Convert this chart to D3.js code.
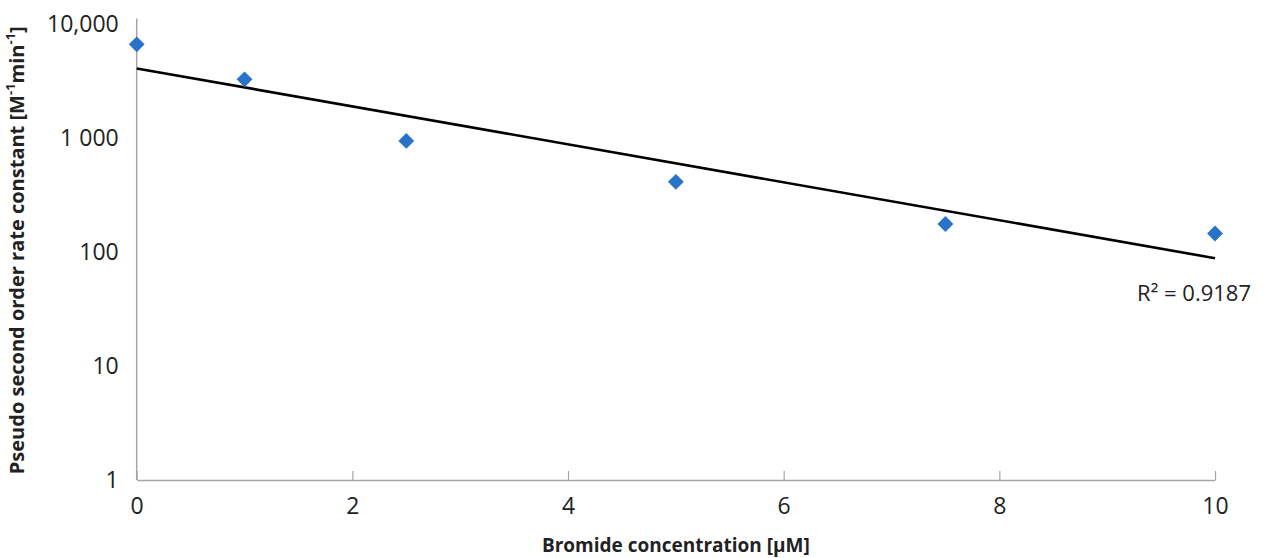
<!DOCTYPE html>
<html>
<head>
<meta charset="utf-8">
<script src="https://cdn.jsdelivr.net/npm/d3@7"></script>
<style>
  html, body { margin: 0; padding: 0; background: #fff; }
  svg { display: block; }
  text { font-family: "Open Sans", "Liberation Sans", sans-serif; }
</style>
</head>
<body>
<svg id="chart" width="1265" height="558"></svg>
<script>
// ---- data ----
const bromide = [0, 1, 2.5, 5, 7.5, 10];
const rateConstant = [6700, 3300, 950, 415, 177, 146];
const yTickValues = [1, 10, 100, 1000, 10000];
const yTickLabels = ["1", "10", "100", "1 000", "10,000"];
const xTickValues = [0, 2, 4, 6, 8, 10];
const rSquaredLabel = "R\u00B2 = 0.9187";

const W = 1265, H = 558;
const margin = { left: 136.7, right: 50, top: 24.5, bottom: 78 };
const svg = d3.select("#chart");

const x = d3.scaleLinear().domain([0, 10]).range([margin.left, W - margin.right]);
const y = d3.scaleLog().domain([1, 10000]).range([H - margin.bottom, margin.top]);

// y axis
const yAxis = svg.append("g")
  .attr("transform", `translate(${margin.left},0)`)
  .call(d3.axisLeft(y).tickValues(yTickValues).tickSize(0).tickPadding(18)
    .tickFormat((d, i) => yTickLabels[i]));
yAxis.select(".domain").attr("stroke", "#a6a6a6").attr("stroke-width", 1.5)
  .attr("d", `M0,${y(1)}V${y(10000) - 6}`);
yAxis.selectAll("text").attr("font-size", 23).attr("fill", "#222")
  .attr("font-family", "'Open Sans', sans-serif");

// x axis
const xAxis = svg.append("g")
  .attr("transform", `translate(0,${y(1)})`)
  .call(d3.axisBottom(x).tickValues(xTickValues).tickSizeInner(-9).tickSizeOuter(0).tickPadding(0)
    .tickFormat(d3.format("d")));
xAxis.select(".domain").attr("stroke", "#a6a6a6").attr("stroke-width", 1.5);
xAxis.selectAll("line").attr("stroke", "#a6a6a6").attr("stroke-width", 1.2);
xAxis.selectAll("text").attr("font-size", 23).attr("fill", "#222")
  .attr("y", 18).attr("dy", "0.71em")
  .attr("font-family", "'Open Sans', sans-serif");

// trend line (exponential least-squares fit in log space)
const lx = bromide, ly = rateConstant.map(v => Math.log10(v));
const mx = d3.mean(lx), my = d3.mean(ly);
const slope = d3.sum(lx.map((v, i) => (v - mx) * (ly[i] - my))) / d3.sum(lx.map(v => (v - mx) ** 2));
const intercept = my - slope * mx;
const fit = v => Math.pow(10, intercept + slope * v);
svg.append("path")
  .attr("d", d3.line().x(d => x(d)).y(d => y(fit(d)))([0, 10]))
  .attr("stroke", "#000").attr("stroke-width", 2.6).attr("fill", "none");

// points
svg.append("g").selectAll("path")
  .data(bromide.map((v, i) => [v, rateConstant[i]]))
  .join("path")
  .attr("d", d3.symbol().type(d3.symbolDiamond2).size(160))
  .attr("transform", d => `translate(${x(d[0])},${y(d[1])})`)
  .attr("fill", "#2872c8");

// R^2 label
svg.append("text")
  .attr("x", x(10) + 36).attr("y", 301)
  .attr("text-anchor", "end")
  .attr("font-size", 22).attr("fill", "#222")
  .text(rSquaredLabel);

// axis titles
svg.append("text")
  .attr("x", (x(0) + x(10)) / 2).attr("y", 552)
  .attr("text-anchor", "middle").attr("font-size", 19).attr("font-weight", "bold").attr("fill", "#222")
  .text("Bromide concentration [\u00B5M]");

const yt = svg.append("text")
  .attr("transform", `translate(24,${(y(1) + y(10000)) / 2 - 2}) rotate(-90)`)
  .attr("text-anchor", "middle").attr("font-size", 20).attr("font-weight", "bold").attr("fill", "#222");
yt.append("tspan").text("Pseudo second order rate constant [M");
yt.append("tspan").attr("baseline-shift", "super").attr("font-size", 13).text("-1");
yt.append("tspan").text("min");
yt.append("tspan").attr("baseline-shift", "super").attr("font-size", 13).text("-1");
yt.append("tspan").text("]");
</script>
</body>
</html>
